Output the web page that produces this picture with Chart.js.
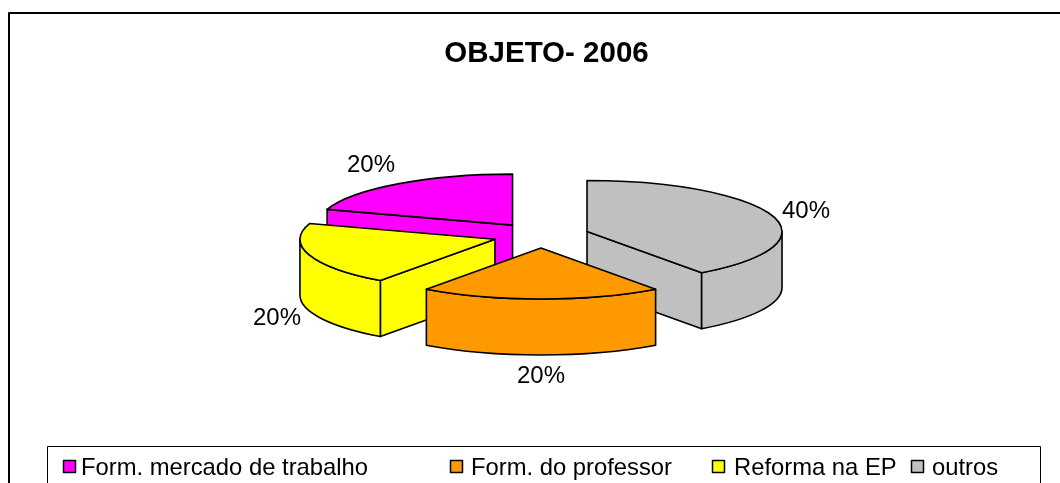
<!DOCTYPE html>
<html>
<head>
<meta charset="utf-8">
<style>html,body{margin:0;padding:0;background:#fff}canvas{display:block}</style>
<script src="https://cdn.jsdelivr.net/npm/chart.js@4"></script>
</head>
<body>
<canvas id="c" width="1060" height="483"></canvas>
<script>
// slices in clockwise order, as they stand round the pie
const categories = ['Form. mercado de trabalho', 'outros', 'Form. do professor', 'Reforma na EP'];
const values = [20, 40, 20, 20];
const colors = ['#FF00FF', '#C0C0C0', '#FF9900', '#FFFF00'];
const percentLabels = ['20%', '40%', '20%', '20%'];
const legendOrder = [0, 2, 3, 1];
const chartTitle = 'OBJETO- 2006';

// layout of the tilted pie
const P = {cx: 541, cy: 235.4, rx: 195, ry: 51, depth: 56, explode: 48.4, rotation: -72};
const FONT = '"Liberation Sans", Arial, sans-serif';
const drawOrder = [0, 1, 3, 2];
const legendPos = [[63, 81], [450, 471], [712, 734], [911, 932]];
const labelPos = [[371, 165], [806, 211], [541, 376], [277, 318]];

function centre(arc) {
  const m = (arc.startAngle + arc.endAngle) / 2;
  return {x: P.cx + P.explode * Math.cos(m), y: P.cy + P.explode * (P.ry / P.rx) * Math.sin(m)};
}
function rimPt(c, a, dy) {
  return [c.x + P.rx * Math.cos(a), c.y + P.ry * Math.sin(a) + (dy || 0)];
}
function walls(ctx, arc, color) {
  const c = centre(arc), m = (arc.startAngle + arc.endAngle) / 2;
  ctx.fillStyle = color; ctx.strokeStyle = '#000'; ctx.lineWidth = 1.6; ctx.lineJoin = 'round';
  [arc.startAngle, arc.endAngle].forEach(a => {
    const ux = Math.cos(a), uy = Math.sin(a);
    const d = Math.cos(m) * ux + Math.sin(m) * uy;
    const ny = -(Math.sin(m) - d * uy);
    if (ny <= 1e-6) return;
    const r = rimPt(c, a);
    ctx.beginPath();
    ctx.moveTo(c.x, c.y); ctx.lineTo(r[0], r[1]); ctx.lineTo(r[0], r[1] + P.depth); ctx.lineTo(c.x, c.y + P.depth);
    ctx.closePath(); ctx.fill(); ctx.stroke();
  });
  // curved outer wall: only the part that faces the viewer
  const a0 = Math.max(arc.startAngle, 0), a1 = Math.min(arc.endAngle, Math.PI);
  if (a1 > a0) {
    ctx.beginPath();
    ctx.ellipse(c.x, c.y, P.rx, P.ry, 0, a0, a1);
    ctx.ellipse(c.x, c.y + P.depth, P.rx, P.ry, 0, a1, a0, true);
    ctx.closePath(); ctx.fill(); ctx.stroke();
  }
}
const pie3d = {
  id: 'pie3d',
  beforeDatasetsDraw(chart) {
    const ctx = chart.ctx, arcs = chart.getDatasetMeta(0).data;
    drawOrder.forEach(i => {
      const arc = arcs[i], c = centre(arc);
      walls(ctx, arc, colors[i]);
      // top face: the library's own arc element, squashed into the ellipse
      ctx.save();
      ctx.translate(c.x, c.y);
      ctx.scale(P.rx / arc.outerRadius, P.ry / arc.outerRadius);
      ctx.translate(-arc.x, -arc.y);
      arc.draw(ctx);
      ctx.restore();
      ctx.beginPath();
      ctx.moveTo(c.x, c.y);
      ctx.ellipse(c.x, c.y, P.rx, P.ry, 0, arc.startAngle, arc.endAngle);
      ctx.closePath();
      ctx.strokeStyle = '#000'; ctx.lineWidth = 1.6; ctx.stroke();
    });
    return false;
  },
  afterDraw(chart) {
    const ctx = chart.ctx;
    ctx.save();
    // chart frame (left and top only are visible in the picture)
    ctx.strokeStyle = '#000'; ctx.lineWidth = 2;
    ctx.beginPath(); ctx.moveTo(9, 484); ctx.lineTo(9, 13); ctx.lineTo(1061, 13); ctx.stroke();
    // percentage labels
    ctx.fillStyle = '#000'; ctx.font = '24px ' + FONT; ctx.textBaseline = 'middle'; ctx.textAlign = 'center';
    percentLabels.forEach((t, i) => ctx.fillText(t, labelPos[i][0], labelPos[i][1]));
    // legend
    ctx.strokeStyle = '#000'; ctx.lineWidth = 1;
    ctx.strokeRect(47.5, 446.5, 993, 60);
    ctx.textAlign = 'left'; ctx.textBaseline = 'alphabetic'; ctx.font = '23.8px ' + FONT;
    legendOrder.forEach((idx, i) => {
      const [sx, tx] = legendPos[i];
      ctx.fillStyle = colors[idx]; ctx.fillRect(sx + .5, 460.5, 12, 12);
      ctx.lineWidth = 1.5; ctx.strokeRect(sx + .5, 460.5, 12, 12);
      ctx.fillStyle = '#000'; ctx.fillText(categories[idx], tx, 475);
    });
    ctx.restore();
  }
};
new Chart(document.getElementById('c'), {
  type: 'pie',
  plugins: [pie3d],
  data: {labels: categories, datasets: [{data: values, backgroundColor: colors, borderWidth: 0}]},
  options: {
    responsive: false, animation: false, rotation: P.rotation,
    layout: {padding: {top: 8, bottom: 60, left: 33}},
    plugins: {
      legend: {display: false},
      tooltip: {enabled: false},
      title: {display: true, text: chartTitle, color: '#000', font: {family: FONT, size: 29.5, weight: 'bold'}, padding: {top: 28, bottom: 10}}
    }
  }
});
</script>
</body>
</html>
